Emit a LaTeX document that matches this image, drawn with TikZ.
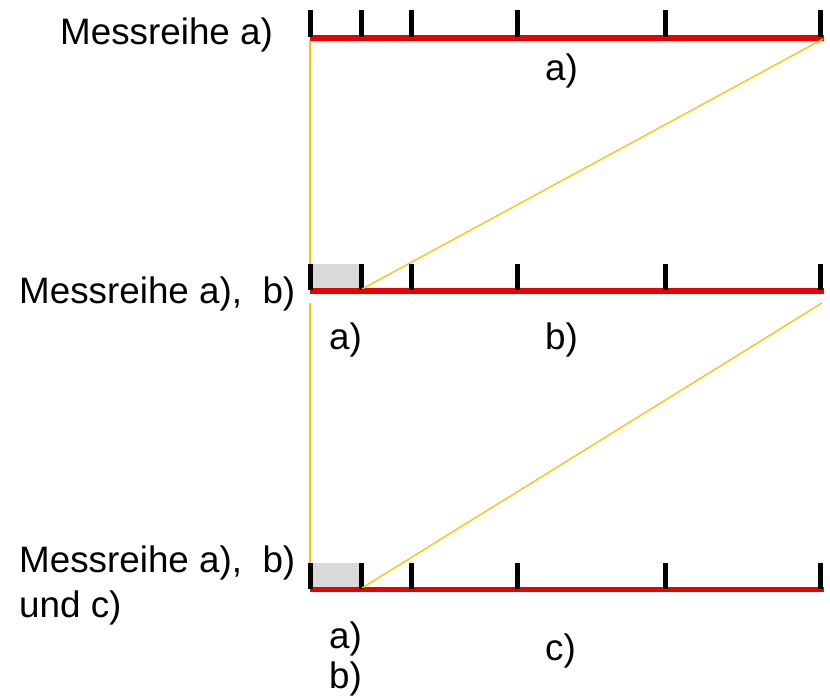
\documentclass[tikz,border=0pt]{standalone}
\usepackage{fontspec}
\setmainfont{Liberation Sans}
\definecolor{barred}{RGB}{235,0,0}
\definecolor{linkyellow}{RGB}{255,192,0}
\definecolor{boxgray}{RGB}{217,217,217}
\begin{document}
\begin{tikzpicture}[x=1pt,y=-1pt,
  redbar/.style={draw=barred,line width=5.5pt},
  tickmark/.style={draw=black,line width=5pt},
  linkline/.style={draw=linkyellow,line width=1.3pt},
  shade/.style={fill=boxgray,draw=none},
  lbl/.style={anchor=base west,inner sep=0pt,font=\fontsize{36.8}{45}\selectfont}
]
\useasboundingbox (0,0) rectangle (830,698);
% rows: tick top, line y
\foreach \r/\top/\ly in {1/10.5/38, 2/264/291, 3/563/589.5}{
  \coordinate (L\r) at (310,\ly);
  \coordinate (R\r) at (824,\ly);
}
% gray boxes
\fill[shade] (310,264) rectangle (361,289);
\fill[shade] (310,563) rectangle (361,587);
% red lines
\draw[redbar] (L1) -- (R1);
\draw[redbar] (L2) -- (R2);
\draw[redbar] (L3) -- (R3);
% ticks
\foreach \x in {310,361.5,411.5,517,665,820}{
  \draw[tickmark] (\x,10.5) -- (\x,37);
  \draw[tickmark] (\x,264) -- (\x,290);
  \draw[tickmark] (\x,563) -- (\x,588.5);
}
% yellow links
\coordinate (A1) at (310,41);
\coordinate (A2) at (310,264);
\coordinate (B1) at (823,39);
\coordinate (B2) at (362,289);
\coordinate (C1) at (310,303);
\coordinate (C2) at (310,563);
\coordinate (D1) at (822,303);
\coordinate (D2) at (362,588);
\draw[linkline] (A1) -- (A2);
\draw[linkline] (B2) -- (B1);
\draw[linkline] (C1) -- (C2);
\draw[linkline] (D2) -- (D1);
% labels
\node[lbl] (m1) at (60,45) {Messreihe a)};
\node[lbl] (m2) at (19,303) {Messreihe a),\hspace{0.556em}b)};
\node[lbl] (m3) at (19,572) {Messreihe a),\hspace{0.556em}b)};
\node[lbl] (m4) at (19,617) {und c)};
\node[lbl] (t1a) at (545,81) {a)};
\node[lbl] (t2a) at (329,349) {a)};
\node[lbl] (t2b) at (545,349) {b)};
\node[lbl] (t3a) at (329,648) {a)};
\node[lbl] (t3b) at (329,688) {b)};
\node[lbl] (t3c) at (545,660) {c)};
\end{tikzpicture}
\end{document}
